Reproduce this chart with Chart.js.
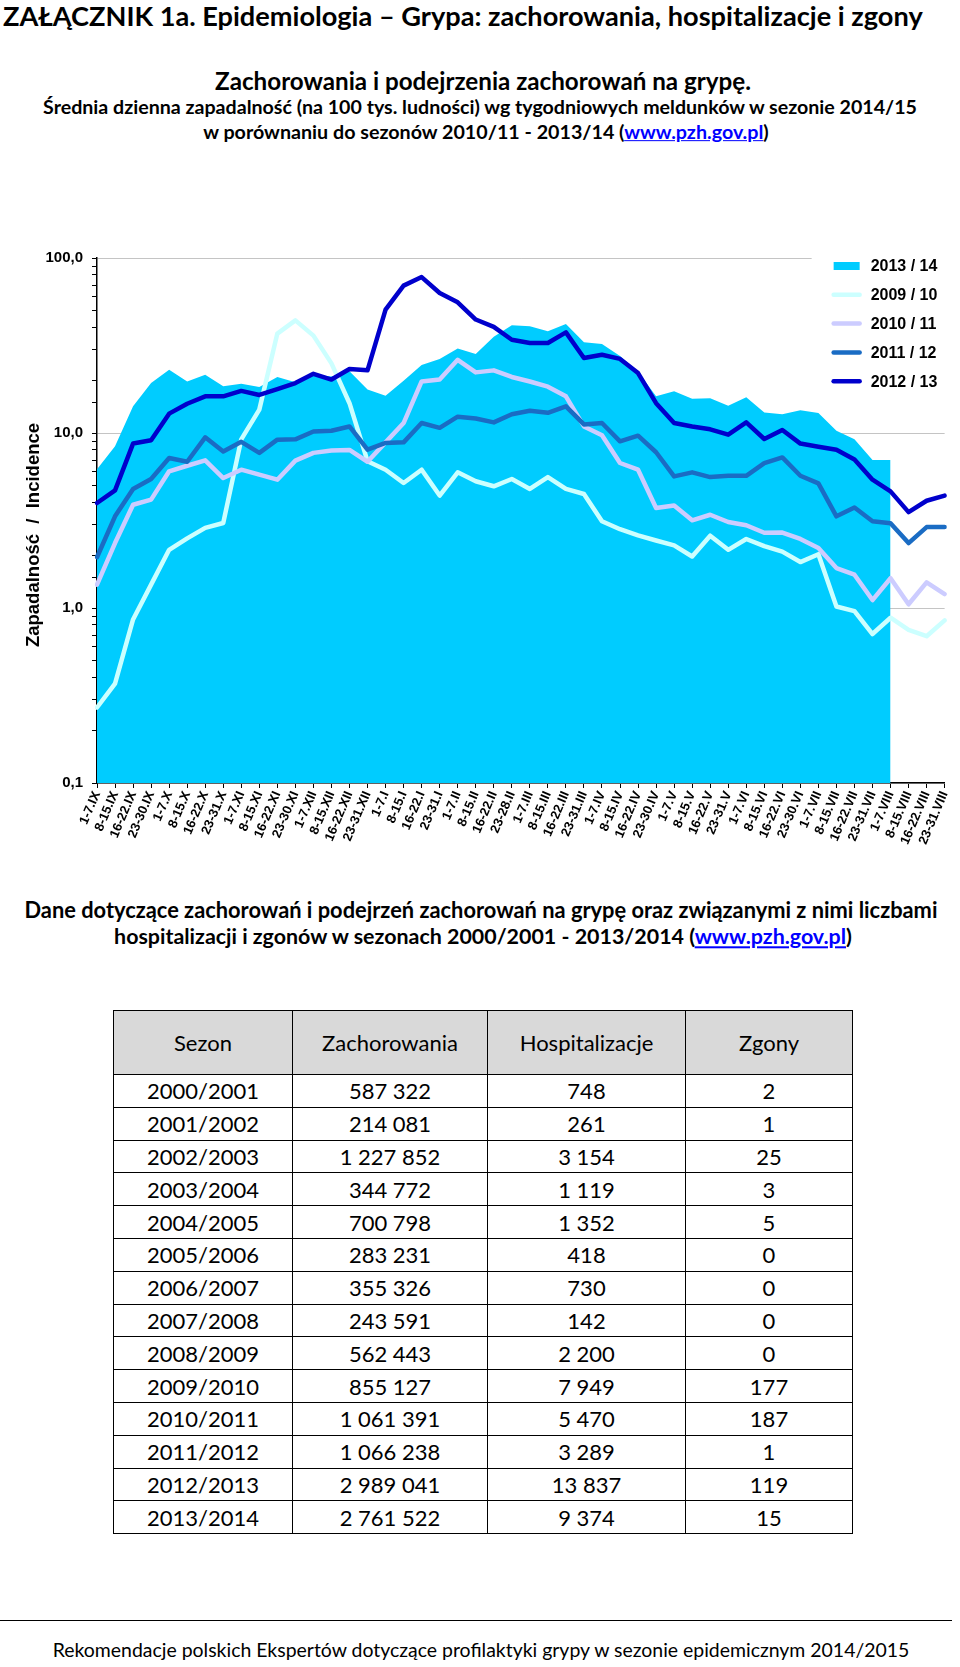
<!DOCTYPE html>
<html lang="pl">
<head>
<meta charset="utf-8">
<title>Grypa: zachorowania, hospitalizacje i zgony</title>
<script src="https://cdn.jsdelivr.net/npm/chart.js@4.4.1/dist/chart.umd.min.js"></script>
<style>
  html, body { margin: 0; padding: 0; background: #fff; }
  body { width: 960px; height: 1667px; position: relative; overflow: hidden; font-family: Lato, "Noto Sans", sans-serif; color: #000; }
  .txt { position: absolute; white-space: nowrap; line-height: 1; }
  .bold { font-weight: bold; }
  .c { transform: translate(-50%, -50%); }
  .l { transform: translate(0, -50%); }
  a { color: #0000ff; text-decoration: underline; }
  #chartBox { position: absolute; left: 0; top: 230px; width: 960px; height: 640px; }
  table { position: absolute; left: 113px; top: 1010px; border-collapse: collapse; font-size: 22px; }
  td, th { border: 1px solid #000; text-align: center; padding: 0; font-weight: normal; }
  th { background: #d9d9d9; height: 63px; }
  td { height: 31.8px; }
  #footLine { position: absolute; left: 0; top: 1620px; width: 952px; height: 0; border-top: 1.5px solid #000; }
</style>
</head>
<body>

<div class="txt bold l" style="left:3px; top:16px" data-w="920">ZAŁĄCZNIK 1a. Epidemiologia – Grypa: zachorowania, hospitalizacje i zgony</div>
<div class="txt bold c" style="left:483px; top:81px" data-w="536">Zachorowania i podejrzenia zachorowań na grypę.</div>
<div class="txt bold c" style="left:480px; top:107px" data-w="874">Średnia dzienna zapadalność (na 100 tys. ludności) wg tygodniowych meldunków w sezonie 2014/15</div>
<div class="txt bold c" style="left:486px; top:132px" data-w="566">w porównaniu do sezonów 2010/11 - 2013/14 (<a>www.pzh.gov.pl</a>)</div>

<div id="chartBox"><canvas id="flu"></canvas></div>

<div class="txt bold c" style="left:481px; top:910px" data-w="913">Dane dotyczące zachorowań i podejrzeń zachorowań na grypę oraz związanymi z nimi liczbami</div>
<div class="txt bold c" style="left:483px; top:937px" data-w="738">hospitalizacji i zgonów w sezonach 2000/2001 - 2013/2014 (<a>www.pzh.gov.pl</a>)</div>

<table id="tbl">
  <thead><tr>
    <th style="width:178px">Sezon</th>
    <th style="width:194px">Zachorowania</th>
    <th style="width:197px">Hospitalizacje</th>
    <th style="width:166px">Zgony</th>
  </tr></thead>
  <tbody></tbody>
</table>

<div id="footLine"></div>
<div class="txt c" style="left:481px; top:1650px" data-w="857">Rekomendacje polskich Ekspertów dotyczące profilaktyki grypy w sezonie epidemicznym 2014/2015</div>

<script>
// weekly periods, Sept -> Aug
const weekLabels = [
  '1-7.IX', '8-15.IX', '16-22.IX', '23-30.IX',
  '1-7.X', '8-15.X', '16-22.X', '23-31.X',
  '1-7.XI', '8-15.XI', '16-22.XI', '23-30.XI',
  '1-7.XII', '8-15.XII', '16-22.XII', '23-31.XII',
  '1-7.I', '8-15.I', '16-22.I', '23-31.I',
  '1-7.II', '8-15.II', '16-22.II', '23-28.II',
  '1-7.III', '8-15.III', '16-22.III', '23-31.III',
  '1-7.IV', '8-15.IV', '16-22.IV', '23-30.IV',
  '1-7.V', '8-15.V', '16-22.V', '23-31.V',
  '1-7.VI', '8-15.VI', '16-22.VI', '23-30.VI',
  '1-7.VII', '8-15.VII', '16-22.VII', '23-31.VII',
  '1-7.VIII', '8-15.VIII', '16-22.VIII', '23-31.VIII'
];

// incidence per 100k
const season1314 = [6.2, 8.4, 14.2, 19.3, 23, 19.7, 21.5, 18.5, 19.1, 18.3, 20.9, 19.5,
  21.5, 21, 22.5, 17.7, 16.3, 19.9, 24.5, 26.5, 30.4, 28.3, 35.5, 41.3, 40.7, 38.1,
  42, 33, 32.3, 27.5, 22.4, 16.2, 17.3, 15.7, 15.8, 14.3, 16, 13.1,
  12.8, 13.5, 13, 10.3, 9.2, 7, 7];
const season0910 = [0.27, 0.37, 0.86, 1.36, 2.15, 2.5, 2.87, 3.06, 9.2, 13.6, 37, 44,
  36, 25, 14.8, 6.9, 6.17, 5.18, 6.17, 4.39, 5.96, 5.3, 4.96, 5.46, 4.79, 5.6,
  4.79, 4.48, 3.13, 2.82, 2.6, 2.43, 2.28, 1.97, 2.59, 2.15, 2.48, 2.26,
  2.1, 1.83, 2.03, 1.02, 0.96, 0.71, 0.88, 0.75, 0.69, 0.85];
const season1011 = [1.36, 2.35, 3.89, 4.16, 6.04, 6.5, 6.98, 5.53, 6.17, 5.78, 5.41, 6.95,
  7.7, 7.95, 8.0, 6.85, 8.84, 11.4, 19.7, 20.2, 26.2, 22.2, 22.8, 20.9, 19.7, 18.4,
  16.2, 10.9, 9.7, 6.74, 6.17, 3.73, 3.85, 3.17, 3.41, 3.1, 2.97, 2.69,
  2.7, 2.48, 2.2, 1.69, 1.55, 1.11, 1.48, 1.05, 1.4, 1.2];
const season1112 = [1.95, 3.34, 4.79, 5.46, 7.2, 6.85, 9.45, 7.85, 8.9, 7.7, 9.16, 9.2,
  10.2, 10.3, 10.9, 8.03, 8.77, 8.84, 11.4, 10.7, 12.4, 12.1, 11.5, 12.8, 13.4, 13.05,
  14.2, 11.2, 11.4, 8.96, 9.65, 7.76, 5.65, 5.96, 5.6, 5.69, 5.69, 6.73,
  7.25, 5.7, 5.15, 3.34, 3.75, 3.13, 3.05, 2.35, 2.9, 2.9];
const season1213 = [3.98, 4.7, 8.7, 9.1, 12.9, 14.7, 16.2, 16.2, 17.4, 16.5, 17.8, 19.3,
  21.8, 20.2, 23.2, 22.8, 50.7, 69.5, 77.8, 63.1, 55.8, 44.5, 40.4, 34.1, 32.7, 32.7,
  37.6, 26.8, 28, 26.5, 22, 14.8, 11.4, 10.9, 10.5, 9.78, 11.5, 9.24,
  10.4, 8.7, 8.35, 8.03, 7.05, 5.41, 4.64, 3.53, 4.1, 4.39];

// table below the chart
const tableSeasons = ['2000/2001', '2001/2002', '2002/2003', '2003/2004', '2004/2005', '2005/2006', '2006/2007',
  '2007/2008', '2008/2009', '2009/2010', '2010/2011', '2011/2012', '2012/2013', '2013/2014'];
const tableCases = [587322, 214081, 1227852, 344772, 700798, 283231, 355326, 243591, 562443, 855127, 1061391, 1066238, 2989041, 2761522];
const tableHosp = [748, 261, 3154, 1119, 1352, 418, 730, 142, 2200, 7949, 5470, 3289, 13837, 9374];
const tableDeaths = [2, 1, 25, 3, 5, 0, 0, 0, 0, 177, 187, 1, 119, 15];

const fmt = n => String(n).replace(/\B(?=(\d{3})+(?!\d))/g, ' ');
const tbody = document.querySelector('#tbl tbody');
tableSeasons.forEach((s, i) => {
  const tr = document.createElement('tr');
  [s, fmt(tableCases[i]), fmt(tableHosp[i]), fmt(tableDeaths[i])].forEach(v => {
    const td = document.createElement('td');
    td.textContent = v;
    tr.appendChild(td);
  });
  tbody.appendChild(tr);
});

// squeeze headings to the widths they have in the original
document.querySelectorAll('[data-w]').forEach(el => {
  const target = +el.dataset.w;
  const size = parseFloat(getComputedStyle(el).fontSize);
  const w = el.getBoundingClientRect().width;
  el.style.fontSize = (size * target / w).toFixed(2) + 'px';
});

const AXIS_FONT = '"Liberation Sans", Arial, sans-serif';
const isDecade = v => Math.abs(Math.log10(v) - Math.round(Math.log10(v))) < 1e-6;

const legendOrder = ['2013 / 14', '2009 / 10', '2010 / 11', '2011 / 12', '2012 / 13'];

const sidePlugin = {
  id: 'side',
  afterDraw(chart) {
    const ctx = chart.ctx;
    const area = chart.chartArea;
    ctx.save();
    // legend box
    const lx = area.right - 133;
    ctx.fillStyle = '#fff';
    ctx.fillRect(lx, area.top - 16, 150, 158);
    ctx.font = 'bold 16px ' + AXIS_FONT;
    ctx.textBaseline = 'middle';
    legendOrder.forEach((name, k) => {
      const ds = chart.data.datasets.find(d => d.label === name);
      const y = area.top + 8 + k * 28.8;
      if (ds.fill) {
        ctx.fillStyle = ds.backgroundColor;
        ctx.fillRect(lx + 22, y - 4, 26, 8);
      } else {
        ctx.strokeStyle = ds.borderColor;
        ctx.lineWidth = 4.5;
        ctx.lineCap = 'round';
        ctx.beginPath();
        ctx.moveTo(lx + 22, y);
        ctx.lineTo(lx + 48, y);
        ctx.stroke();
      }
      ctx.fillStyle = '#000';
      ctx.fillText(name, lx + 59, y + 1);
    });
    // y axis title
    ctx.translate(34, 305);
    ctx.rotate(-Math.PI / 2);
    ctx.font = 'bold 18.5px ' + AXIS_FONT;
    ctx.textAlign = 'center';
    ctx.fillStyle = '#000';
    ctx.fillText('Zapadalność  /  Incidence', 0, 0);
    ctx.restore();
  }
};

const lineSet = (label, data, color, order) => ({
  label, data, order,
  borderColor: color,
  backgroundColor: color,
  borderWidth: 4.5,
  borderJoinStyle: 'round',
  borderCapStyle: 'round',
  pointRadius: 0,
  tension: 0,
  fill: false
});

new Chart(document.getElementById('flu'), {
  type: 'line',
  data: {
    labels: weekLabels,
    datasets: [
      {
        label: '2013 / 14', data: season1314, order: 10,
        backgroundColor: '#00ccff', borderWidth: 0, pointRadius: 0,
        fill: 'start', tension: 0
      },
      lineSet('2009 / 10', season0910, '#ccffff', 4),
      lineSet('2010 / 11', season1011, '#ccccff', 3),
      lineSet('2011 / 12', season1112, '#1a6cc4', 2),
      lineSet('2012 / 13', season1213, '#0000cc', 1)
    ]
  },
  options: {
    responsive: true,
    maintainAspectRatio: false,
    animation: false,
    layout: { padding: { top: 28, right: 9, left: 0, bottom: 0 } },
    plugins: { legend: { display: false }, tooltip: { enabled: false } },
    scales: {
      x: {
        type: 'category',
        offset: false,
        afterFit: s => { s.height = 87; },
        grid: { drawOnChartArea: false, color: '#000', tickColor: '#000', tickLength: 5 },
        border: { color: '#000', width: 1.5 },
        ticks: {
          autoSkip: false, maxRotation: 67, minRotation: 67, padding: 1,
          color: '#000', font: { family: AXIS_FONT, size: 13, weight: 'bold' }
        }
      },
      y: {
        type: 'logarithmic',
        min: 0.1,
        max: 100,
        afterFit: s => { s.width = 97; },
        grid: {
          color: c => (c.tick && isDecade(c.tick.value)) ? '#c4c4c4' : 'rgba(0,0,0,0)',
          tickColor: '#000',
          tickLength: 5,
          lineWidth: 1
        },
        border: { color: '#000', width: 1.5 },
        ticks: {
          autoSkip: false,
          padding: 9,
          color: '#000',
          font: { family: AXIS_FONT, size: 15, weight: 'bold' },
          callback: v => isDecade(v) ? v.toFixed(1).replace('.', ',') : ''
        }
      }
    }
  },
  plugins: [sidePlugin]
});
</script>
</body>
</html>
